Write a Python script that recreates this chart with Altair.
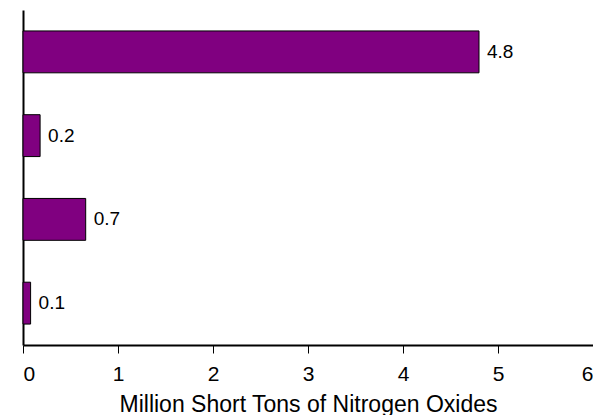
import altair as alt
import pandas as pd

categories = ["Category 1", "Category 2", "Category 3", "Category 4"]
values = [4.8, 0.18, 0.66, 0.08]
labels = ["4.8", "0.2", "0.7", "0.1"]
x_ticks = [0, 1, 2, 3, 4, 5, 6]

df = pd.DataFrame({"category": categories, "value": values, "label": labels})

FONT = "Liberation Sans"

y_enc = alt.Y(
    "category:N",
    sort=categories,
    scale=alt.Scale(paddingInner=0.5, paddingOuter=0.25),
    axis=alt.Axis(labels=False, ticks=False, title=None, domainColor="black", domainWidth=2),
)

bars = alt.Chart(df).mark_bar(color="#800080", stroke="black", strokeWidth=1).encode(
    y=y_enc,
    x=alt.X(
        "value:Q",
        scale=alt.Scale(domain=[0, 6], nice=False, zero=True),
        axis=alt.Axis(
            values=x_ticks,
            format="d",
            title="Million Short Tons of Nitrogen Oxides",
            grid=False,
            domainColor="black",
            domainWidth=2,
            tickColor="black",
            tickWidth=1,
            tickSize=8,
            labelFontSize=21,
            labelFont=FONT,
            labelColor="black",
            labelPadding=10,
            titleFont=FONT,
            titleFontSize=23,
            titleFontWeight="normal",
            titleColor="black",
            titlePadding=9,
        ),
    ),
)

text = alt.Chart(df).mark_text(align="left", baseline="middle", dx=8, fontSize=19, font=FONT, color="black").encode(
    y=alt.Y("category:N", sort=categories),
    x=alt.X("value:Q"),
    text="label:N",
)

chart = (
    alt.layer(bars, text)
    .properties(
        width=570,
        height=335,
        autosize=alt.AutoSizeParams(type="none"),
        padding={"left": 15, "top": 2, "right": 0, "bottom": 70},
    )
    .configure_view(stroke=None)
)

chart.save("out.html", embed_options={"renderer": "svg", "actions": False})
